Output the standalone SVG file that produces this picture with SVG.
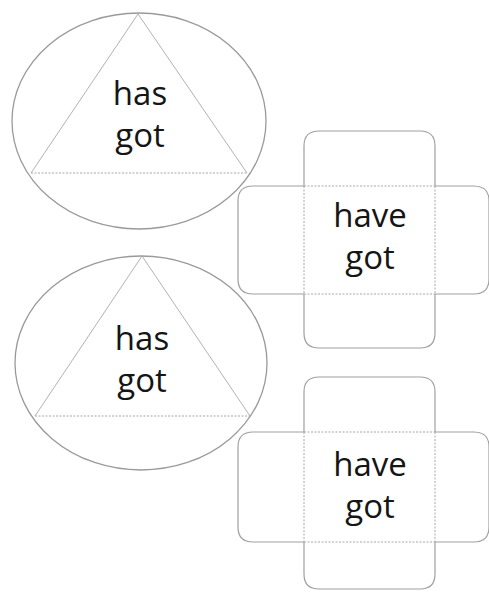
<svg xmlns="http://www.w3.org/2000/svg" width="489" height="592" viewBox="0 0 489 592">
<style>
.oval{fill:none;stroke:#9a9a9a;stroke-width:1.3}
.side{fill:none;stroke:#a8a8a8;stroke-width:0.9}
.dash{fill:none;stroke:#a8a8a8;stroke-width:1;stroke-dasharray:2 1.5}
.edge{fill:none;stroke:#a0a0a0;stroke-width:1.2}
.lbl{font-family:"Open Sans","Noto Sans",sans-serif;font-size:33px;font-weight:500;fill:#151515;text-anchor:middle}
</style>
<rect width="489" height="592" fill="#fff"/>
<g id="has-got-1">
<ellipse class="oval" cx="139" cy="121" rx="127" ry="108"/>
<path class="side" d="M31,173 L138,14 L247,173"/>
<line class="dash" x1="31" y1="173" x2="247" y2="173"/>
<text class="lbl" x="140" y="105">has</text>
<text class="lbl" x="140" y="147">got</text>
</g>
<g id="has-got-2">
<ellipse class="oval" cx="141" cy="363" rx="126" ry="107"/>
<path class="side" d="M35,416 L142,256 L250,416"/>
<line class="dash" x1="35" y1="416" x2="250" y2="416"/>
<text class="lbl" x="142" y="350">has</text>
<text class="lbl" x="142" y="392">got</text>
</g>
<g id="have-got-1">
<path class="edge" d="M304,186 V146 Q304,131 319,131 H420 Q435,131 435,146 V186"/>
<path class="edge" d="M304,294 V333 Q304,348 319,348 H420 Q435,348 435,333 V294"/>
<path class="edge" d="M304,186 H253 Q238,186 238,201 V279 Q238,294 253,294 H304"/>
<path class="edge" d="M435,186 H474 Q489,186 489,201 V279 Q489,294 474,294 H435"/>
<path class="dash" d="M304,186 H435 M304,294 H435 M304,186 V294 M435,186 V294"/>
<text class="lbl" x="370" y="227">have</text>
<text class="lbl" x="370" y="269">got</text>
</g>
<g id="have-got-2">
<path class="edge" d="M304,432 V392 Q304,377 319,377 H420 Q435,377 435,392 V432"/>
<path class="edge" d="M304,542 V574 Q304,589 319,589 H420 Q435,589 435,574 V542"/>
<path class="edge" d="M304,432 H253 Q238,432 238,447 V527 Q238,542 253,542 H304"/>
<path class="edge" d="M435,432 H474 Q489,432 489,447 V527 Q489,542 474,542 H435"/>
<path class="dash" d="M304,432 H435 M304,542 H435 M304,432 V542 M435,432 V542"/>
<text class="lbl" x="370" y="476">have</text>
<text class="lbl" x="370" y="518">got</text>
</g>
</svg>
